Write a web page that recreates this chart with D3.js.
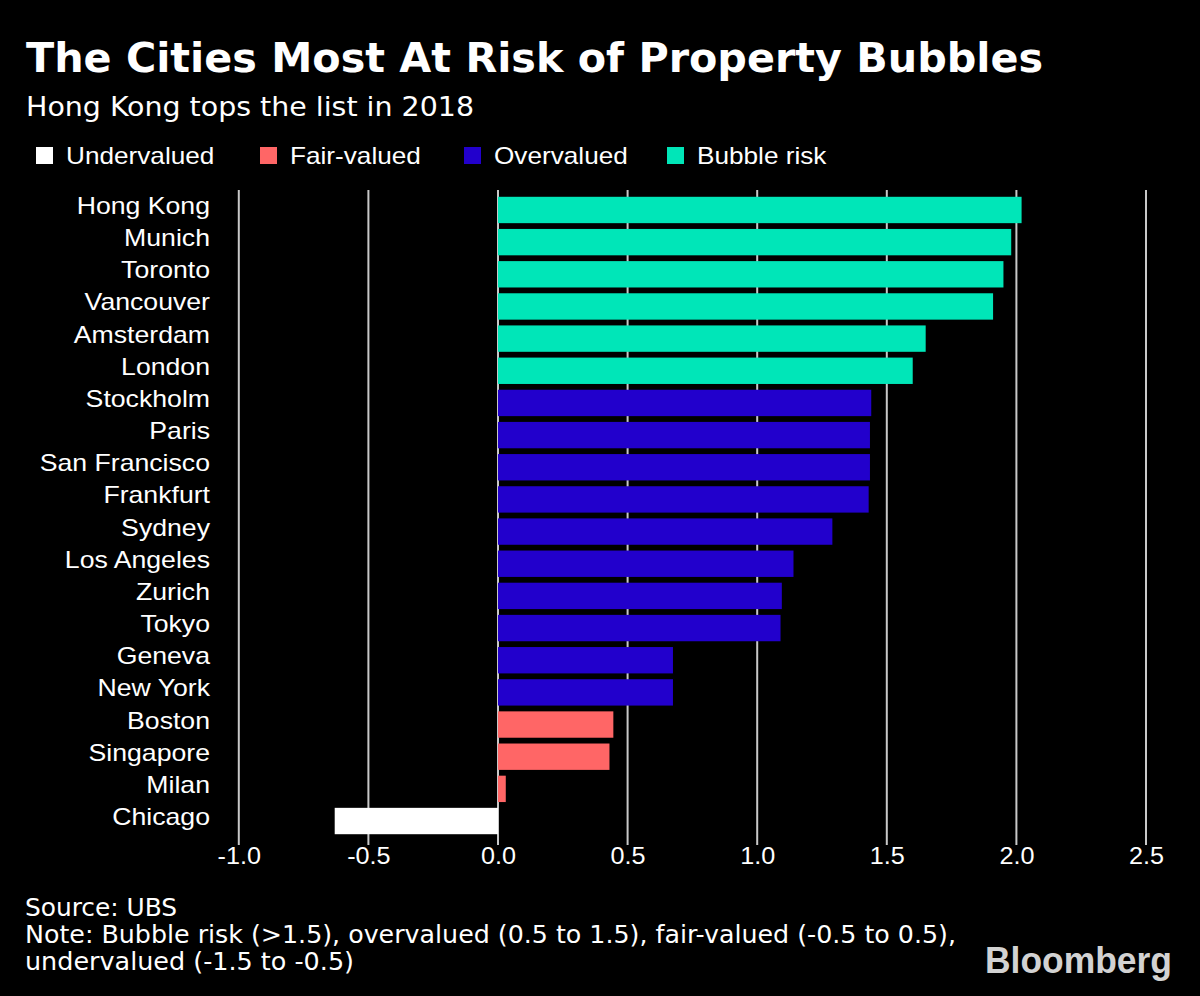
<!DOCTYPE html>
<html><head><meta charset="utf-8">
<script src="https://cdn.jsdelivr.net/npm/d3@7"></script>
<style>body{margin:0;background:#000;} svg{display:block;}</style>
</head><body>
<svg id="c" width="1200" height="996"></svg>
<script>
const cities = ["Hong Kong","Munich","Toronto","Vancouver","Amsterdam","London","Stockholm","Paris","San Francisco","Frankfurt","Sydney","Los Angeles","Zurich","Tokyo","Geneva","New York","Boston","Singapore","Milan","Chicago"];
const values = [2.02,1.98,1.95,1.91,1.65,1.60,1.44,1.435,1.435,1.43,1.29,1.14,1.095,1.09,0.675,0.675,0.445,0.43,0.03,-0.63];
const cityCategory = ["Bubble risk","Bubble risk","Bubble risk","Bubble risk","Bubble risk","Bubble risk","Overvalued","Overvalued","Overvalued","Overvalued","Overvalued","Overvalued","Overvalued","Overvalued","Overvalued","Overvalued","Fair-valued","Fair-valued","Fair-valued","Undervalued"];
const categories = ["Undervalued","Fair-valued","Overvalued","Bubble risk"];
const categoryColors = ["#ffffff","#ff6666","#2200cc","#00e6b8"];
const tickValues = [-1.0,-0.5,0.0,0.5,1.0,1.5,2.0,2.5];
const tickLabels = ["-1.0","-0.5","0.0","0.5","1.0","1.5","2.0","2.5"];

const svg = d3.select("#c");
svg.append("rect").attr("width",1200).attr("height",996).attr("fill","#000");

const condensed = "'DejaVu Sans Condensed','DejaVu Sans',sans-serif";
const helv = "'Liberation Sans',Arial,sans-serif";

function fitW(sel, w){ sel.attr("textLength", w).attr("lengthAdjust","spacingAndGlyphs"); }
function stretch(sel, k){ sel.each(function(){ const w=this.getComputedTextLength(); this.setAttribute("textLength", w*k); this.setAttribute("lengthAdjust","spacingAndGlyphs"); }); }

// Title & subtitle
svg.append("text").attr("x",26).attr("y",72).attr("fill","#fff")
  .style("font-family",condensed).style("font-weight","bold").style("font-size","41px")
  .text("The Cities Most At Risk of Property Bubbles").call(fitW,1017);
svg.append("text").attr("x",26).attr("y",116).attr("fill","#fff")
  .style("font-family",condensed).style("font-size","27px")
  .text("Hong Kong tops the list in 2018").call(fitW,448);

// Legend
const legendX = [36,260,464,667];
const color = d3.scaleOrdinal().domain(categories).range(categoryColors);
const lg = svg.append("g");
categories.forEach((c,i)=>{
  lg.append("rect").attr("x",legendX[i]).attr("y",147).attr("width",17).attr("height",17).attr("fill",color(c));
  lg.append("text").attr("x",legendX[i]+30).attr("y",164).attr("fill","#fff")
    .style("font-family",helv).style("font-size","24px").text(c).call(stretch,1.09);
});

// Scales
const x = d3.scaleLinear().domain([0,2.5]).range([498,1146]);
const y = d3.scaleBand().domain(cities).range([191,840]).paddingInner(0.18).paddingOuter(0.18);

// Gridlines
svg.append("g").selectAll("line").data(tickValues).join("line")
  .attr("x1",d=>x(d)).attr("x2",d=>x(d)).attr("y1",190).attr("y2",845)
  .attr("stroke","#c8c8c8").attr("stroke-width",2);

// Bars
svg.append("g").selectAll("rect").data(cities).join("rect")
  .attr("x",(d,i)=>Math.min(x(0),x(values[i])))
  .attr("width",(d,i)=>Math.abs(x(values[i])-x(0)))
  .attr("y",d=>y(d)).attr("height",y.bandwidth())
  .attr("fill",(d,i)=>color(cityCategory[i]));

// City labels
svg.append("g").selectAll("text").data(cities).join("text")
  .attr("x",210).attr("y",d=>y(d)+y.bandwidth()/2+4).attr("text-anchor","end")
  .attr("fill","#fff").style("font-family",helv).style("font-size","24px")
  .text(d=>d).call(stretch,1.11);

// Axis labels
const xAxis = d3.axisBottom(x).tickValues(tickValues).tickFormat((d,i)=>tickLabels[i]).tickSize(0).tickPadding(0);
const ax = svg.append("g").attr("transform","translate(0,846)").call(xAxis);
ax.select(".domain").remove();
ax.selectAll("text").attr("dy",0).attr("y",18).attr("fill","#fff")
  .style("font-family",helv).style("font-size","24px").call(stretch,1.05);

// Footer
const foot = [["Source: UBS",916,152],["Note: Bubble risk (>1.5), overvalued (0.5 to 1.5), fair-valued (-0.5 to 0.5),",943,931],["undervalued (-1.5 to -0.5)",970,329]];
foot.forEach(f=>{
  svg.append("text").attr("x",25).attr("y",f[1]).attr("fill","#fff")
    .style("font-family",condensed).style("font-size","25px").text(f[0]).call(fitW,f[2]);
});
svg.append("text").attr("x",985).attr("y",973).attr("fill","#d2d2d2")
  .style("font-family",helv).style("font-weight","bold").style("font-size","36px")
  .text("Bloomberg").call(fitW,187);
</script>
</body></html>
